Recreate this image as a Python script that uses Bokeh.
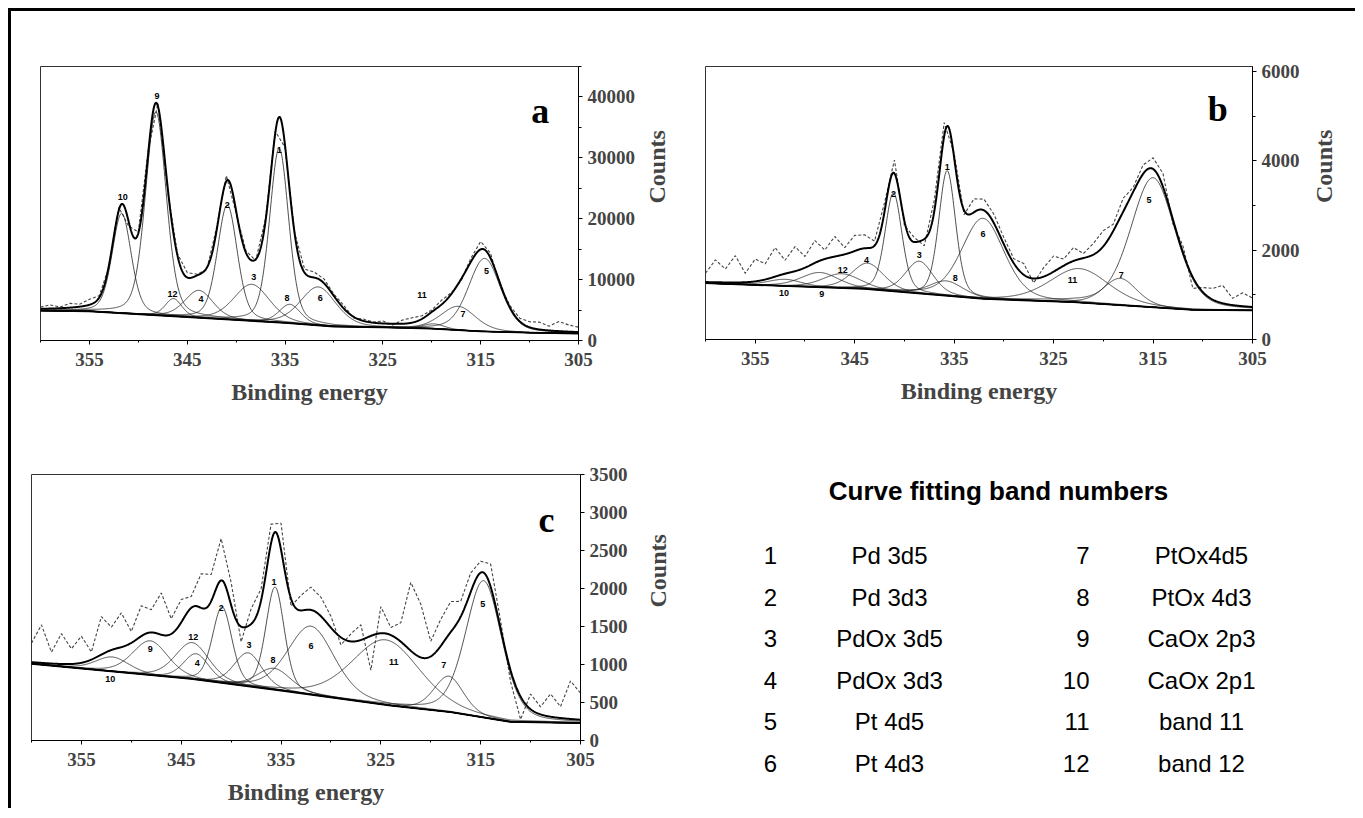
import math
import numpy as np
from bokeh.plotting import figure
from bokeh.models import Range1d, FixedTicker, SingleIntervalTicker, NumeralTickFormatter
from bokeh.layouts import row, column
from bokeh.embed import file_html
from bokeh.resources import INLINE
from bokeh.core.properties import value

# ---------------- shared ----------------
band_numbers = [1, 2, 3, 4, 5, 6, 7, 8, 9, 10, 11, 12]
band_names = ["Pd 3d5", "Pd 3d3", "PdOx 3d5", "PdOx 3d3", "Pt 4d5", "Pt 4d3",
              "PtOx4d5", "PtOx 4d3", "CaOx 2p3", "CaOx 2p1", "band 11", "band 12"]
x_ticks = [355, 345, 335, 325, 315, 305]
x_minor = [360, 350, 340, 330, 320, 310]
raw_energy = list(range(360, 304, -1))   # measured points, 1 eV step

# ---------------- panel a ----------------
a_center = [335.6, 340.9, 338.4, 343.8, 314.6, 331.6, 317.3, 334.5, 348.2, 351.7, 319.8, 346.4]
a_height = [28600, 18800, 6000, 4500, 12000, 6300, 3900, 3100, 33400, 16400, 800, 2900]
a_fwhm = [2.3, 2.4, 4.3, 3.4, 3.9, 4.3, 4.2, 2.6, 2.5, 2.3, 2.6, 2.0]
a_base_e = [360, 355, 345, 335, 330, 325, 320, 315, 310, 305]
a_base_c = [4900, 4800, 3850, 2900, 2300, 2150, 1950, 1500, 1280, 1150]
a_resid = [300, 600, 200, 700, 400, 900, 300, -300, 500, -800, 200, 600, 400, -500, 300, 800,
           200, -300, 500, 900, -400, 300, -200, 400, 300, -300, 200, 600, 900, 700, 300, 500,
           -200, 300, 100, 400, -200, 600, 800, 500, 300, 700, 200, -300, 600, 1300, 800, -400,
           300, 500, 900, 1200, 700, 1600, 1100, 800]
a_lab_e = [335.6, 340.9, 338.2, 343.6, 314.4, 331.4, 316.8, 334.8, 348.1, 351.6, 321.0, 346.5]
a_lab_c = [31310, 22330, 10400, 6850, 11380, 6950, 4380, 7010, 40110, 23530, 7550, 7670]

# ---------------- panel b ----------------
b_center = [335.7, 341.1, 338.5, 343.7, 315.0, 332.1, 318.3, 335.8, 348.5, 352.0, 322.4, 346.3]
b_height = [2800, 2200, 720, 580, 2900, 1800, 600, 330, 330, 150, 760, 320]
b_fwhm = [2.0, 2.0, 3.3, 3.8, 5.3, 5.0, 4.0, 4.0, 4.5, 4.0, 7.0, 4.5]
b_base_e = [360, 344, 332, 323, 311, 305]
b_base_c = [1260, 1135, 911, 836, 665, 650]
b_resid = [200, 500, 300, 600, 200, 500, 350, 650, 300, 550, 250, 500, 200, 450, 150, 350,
           300, 100, 200, 300, -100, 100, -150, 250, 300, 100, -100, 300, 250, 200, 150, 100,
           250, -100, 200, 350, 150, 300, 100, 250, 350, 150, 300, 100, 200, 250, 300, -100,
           150, -250, 100, 250, 400, 150, 300, 200]
b_lab_e = [335.7, 341.1, 338.5, 343.8, 315.4, 332.1, 318.2, 334.9, 348.3, 352.1, 323.1, 346.2]
b_lab_c = [3858, 3247, 1881, 1769, 3112, 2351, 1433, 1381, 1008, 1037, 1321, 1561]

# ---------------- panel c ----------------
c_center = [335.6, 340.9, 338.3, 343.5, 314.7, 332.0, 318.2, 335.7, 348.1, 351.9, 324.5, 343.9]
c_height = [1350, 1000, 440, 340, 1800, 900, 470, 280, 450, 190, 855, 480]
c_fwhm = [2.2, 2.3, 3.3, 3.0, 4.3, 5.5, 3.5, 4.0, 4.2, 4.0, 8.0, 4.0]
c_base_e = [360, 344, 335, 324, 318, 312, 305]
c_base_c = [1010, 810, 658, 460, 373, 245, 230]
c_resid = [250, 500, 150, 400, 200, 350, 100, 500, 300, 450, 150, 400, 300, 550, 200, 300,
           150, 450, 350, 550, 300, -200, 200, 150, 250, 350, -100, 200, 300, 250, 150, -100,
           100, 200, -450, 350, 100, 250, 900, 700, 200, 350, 400, 200, 250, 150, 300, 100,
           -150, -300, 200, 100, 300, 150, 500, 350]
c_lab_e = [335.7, 341.0, 338.2, 343.4, 314.8, 332.0, 318.7, 335.8, 348.1, 352.1, 323.7, 343.8]
c_lab_c = [2083, 1746, 1263, 1023, 1790, 1237, 987, 1062, 1207, 812, 1030, 1359]

ETA = 0.3  # Lorentzian fraction of the Gaussian-Lorentzian band shape

SERIF = "Liberation Serif"
SANS = "Liberation Sans"


def band(e, c, h, w):
    e = np.asarray(e, dtype=float)
    s = w / 2.3548
    g = np.exp(-(e - c) ** 2 / (2 * s * s))
    lo = 1.0 / (1.0 + ((e - c) / (w / 2.0)) ** 2)
    return h * ((1 - ETA) * g + ETA * lo)


def make_panel(centers, heights, fwhms, base_e, base_c, resid, lab_e, lab_c,
               ymax, yint, yminor, letter, letter_xy, fw, fh, bl, br, bt, bb, label_standoff):
    p = figure(frame_width=fw, frame_height=fh, x_range=Range1d(360, 305),
               y_range=Range1d(0, ymax), output_backend="svg", toolbar_location=None,
               y_axis_location="right", min_border_left=bl, min_border_right=br,
               min_border_top=bt, min_border_bottom=bb, background_fill_color="white",
               border_fill_color="white")
    p.grid.visible = False
    p.outline_line_color = "#333333"
    p.outline_line_width = 1

    e = np.linspace(305, 360, 1101)
    bxe = base_e[::-1]
    bxc = base_c[::-1]
    base = np.interp(e, bxe, bxc)
    comps = [base + band(e, c, h, w) for c, h, w in zip(centers, heights, fwhms)]
    env = base + sum(band(e, c, h, w) for c, h, w in zip(centers, heights, fwhms))

    re = np.array(raw_energy, dtype=float)
    env_raw = np.interp(re, bxe, bxc) + sum(band(re, c, h, w) for c, h, w in zip(centers, heights, fwhms))
    raw = env_raw + np.array(resid, dtype=float)

    p.line(re, raw, line_color="#444444", line_width=1.1, line_dash="3 2")
    p.multi_line([list(e)] * len(comps), [list(c) for c in comps], line_color="#222222", line_width=0.8)
    p.line(base_e, base_c, line_color="black", line_width=1.8)
    p.line(e, env, line_color="black", line_width=2.0)

    p.text(x=lab_e, y=lab_c, text=[str(n) for n in band_numbers], text_font=value(SANS),
           text_font_style="bold", text_font_size="9px", text_align="center",
           text_baseline="middle", text_color="black")
    p.text(x=[letter_xy[0]], y=[letter_xy[1]], text=[letter], text_font=value(SERIF),
           text_font_style="bold", text_font_size="36px", text_align="center",
           text_baseline="alphabetic", text_color="black")

    xa = p.xaxis[0]
    xa.ticker = FixedTicker(ticks=x_ticks, minor_ticks=x_minor)
    xa.major_label_text_font = SERIF
    xa.major_label_text_font_style = "bold"
    xa.major_label_text_font_size = "19px"
    xa.major_tick_in = 0
    xa.major_tick_out = 4
    xa.minor_tick_in = 0
    xa.minor_tick_out = 2
    xa.major_label_standoff = 8
    xa.axis_label = "Binding energy"
    xa.axis_label_text_font = SERIF
    xa.axis_label_text_font_style = "bold"
    xa.axis_label_text_font_size = "24px"
    xa.axis_label_standoff = 10
    xa.axis_line_color = "black"

    ya = p.yaxis[0]
    ya.ticker = SingleIntervalTicker(interval=yint, num_minor_ticks=yminor)
    ya.formatter = NumeralTickFormatter(format="0")
    ya.major_label_text_font = SERIF
    ya.major_label_text_font_style = "bold"
    ya.major_label_text_font_size = "19px"
    ya.major_tick_in = 0
    ya.major_tick_out = 4
    ya.minor_tick_in = 0
    ya.minor_tick_out = 3
    ya.major_label_standoff = 5
    ya.axis_label = "Counts"
    ya.axis_label_text_font = SERIF
    ya.axis_label_text_font_style = "bold"
    ya.axis_label_text_font_size = "24px"
    ya.axis_label_standoff = label_standoff
    ya.axis_line_color = "black"
    try:
        ya.axis_label_orientation = math.pi / 2
    except Exception:
        pass
    return p


pa = make_panel(a_center, a_height, a_fwhm, a_base_e, a_base_c, a_resid, a_lab_e, a_lab_c,
                45000, 10000, 2, "a", (308.9, 37770), 538, 274, 29, 120, 55, 68, 19)
pb = make_panel(b_center, b_height, b_fwhm, b_base_e, b_base_c, b_resid, b_lab_e, b_lab_c,
                6112, 2000, 2, "b", (308.5, 5170), 547, 273, 7, 103, 55, 69, 21)
pc = make_panel(c_center, c_height, c_fwhm, c_base_e, c_base_c, c_resid, c_lab_e, c_lab_c,
                3500, 500, 0, "c", (308.4, 2895), 549, 266, 20, 118, 66, 68, 27)

# ---------------- legend panel ----------------
pl = figure(frame_width=657, frame_height=334, x_range=Range1d(698, 1355),
            y_range=Range1d(808, 474), output_backend="svg", toolbar_location=None,
            x_axis_location=None, y_axis_location=None, min_border_left=0,
            min_border_right=0, min_border_top=66, min_border_bottom=0)
pl.grid.visible = False
pl.outline_line_color = None

pl.text(x=[998], y=[490], text=["Curve fitting band numbers"], text_font=value(SANS),
        text_font_style="bold", text_font_size="26px", text_align="center",
        text_baseline="middle", text_color="black")

row_y = [555 + 41.6 * i for i in range(6)]
pl.text(x=[770] * 6, y=row_y, text=[str(n) for n in band_numbers[:6]], text_font=value(SANS),
        text_font_size="24px", text_align="center", text_baseline="middle", text_color="black")
pl.text(x=[889] * 6, y=row_y, text=band_names[:6], text_font=value(SANS),
        text_font_size="24px", text_align="center", text_baseline="middle", text_color="black")
pl.text(x=[1089] * 6, y=row_y, text=[str(n) for n in band_numbers[6:]], text_font=value(SANS),
        text_font_size="24px", text_align="right", text_baseline="middle", text_color="black")
pl.text(x=[1201] * 6, y=row_y, text=band_names[6:], text_font=value(SANS),
        text_font_size="24px", text_align="center", text_baseline="middle", text_color="black")

layout = column(row(pa, pb), row(pc, pl), margin=(8, 0, 0, 8),
                styles={"border-left": "3px solid black", "border-top": "3px solid black"})

open("out.html", "w").write(file_html(layout, INLINE))
